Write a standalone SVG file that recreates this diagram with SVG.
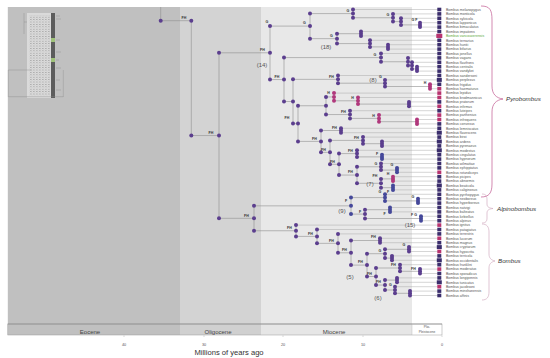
<svg xmlns="http://www.w3.org/2000/svg" width="550" height="358" viewBox="0 0 550 358">
<style>
text{font-family:"Liberation Sans",Arial,sans-serif}
.ln{fill:none;stroke:#8f8f8f;stroke-width:0.6}
.tl{fill:none;stroke:#a3a3a3;stroke-width:0.45}
.d circle{fill:#5b3e8e}
.pk circle{fill:#b0387c}
.bl circle{fill:#45489a}
.nl{font-size:3.6px;font-weight:bold;fill:#333;text-anchor:middle}
.num{font-size:6px;fill:#555;text-anchor:middle}
.sp{font-size:3.5px;fill:#555}
.tm{fill:#3a2d6c}
.tp{fill:#b8336f}
.ep{font-size:6px;fill:#444;text-anchor:middle}
.tk{font-size:3.8px;fill:#555;text-anchor:middle}
.cl{font-size:6.2px;font-style:italic;fill:#333}
.th{fill:none;stroke:#8a8a8a;stroke-width:0.4}
</style>
<defs>
<pattern id="thp" width="3" height="2.4" patternUnits="userSpaceOnUse"><rect x="0" y="0" width="1.6" height="0.7" fill="#a2a2a2"/><rect x="1.6" y="1.2" width="0.8" height="0.6" fill="#b5b5b5"/></pattern>
</defs>
<rect width="550" height="358" fill="#ffffff"/>
<g id="background">
<rect x="7.8" y="7" width="172.2" height="317" fill="#c0c0c0"/>
<rect x="180" y="7" width="81" height="317" fill="#d3d3d3"/>
<rect x="261" y="7" width="151" height="317" fill="#e8e8e8"/>
</g>
<g id="inset">
<rect x="27" y="13" width="25" height="85" fill="#dadada"/>
<rect x="29" y="15" width="21" height="81" fill="url(#thp)"/>
<rect x="51" y="13" width="4" height="85" fill="#5c5c5c"/>
<rect x="51" y="38" width="4" height="4" fill="#9fc27a"/>
<rect x="51" y="58" width="4" height="4" fill="#9fc27a"/>
<path class="th" d="M24 13V34M24 22H27M8.3 70H31.7M8.3 70V96.7M8.3 96.7H63.3M63.3 70V97M56 16H60M56 19H61M56 40H60M56 52H61M56 60H59M56 68H61M56 80H60M56 90H61"/>
</g>
<g id="connectors">
<path class="ln" d="M160.7 7V20.7H191.3M191.3 20.7V135.55H219M219 52.8V218.3M219 52.8H270M219 218.3H254
M270 26.1V79.55M270 26.1H310M270 79.55H284
M310 13.6V38.65M310 13.6H353M310 38.65H337
M353 9.5V17.75M353 17.75H393M393 13.9V21.6M393 21.6H401M401 18.3V24.9M401 24.9H420M420 22.7V27.1
M337 33.7V43.6M337 33.7H361M337 43.6H370M361 31.5V35.9M370 40.3V46.9M370 46.9H388M388 44.7V49.1
M284 57.6V101.5M284 57.6H381M284 101.5H293
M381 53.5V61.75M381 61.75H408M408 57.9V65.6M408 65.6H412M412 62.3V68.9M412 68.9H417M417 66.7V71.1
M293 79.35V123.6M293 79.35H338M293 123.6H298
M338 75.5V83.2M338 83.2H385M385 79.9V86.5M385 86.5H430M430 84.3V88.7
M298 105.75V141.4M298 105.75H326M298 141.4H321
M326 96.95V114.55M326 96.95H334M326 114.55H350
M334 93.1V100.8M334 100.8H358M358 97.5V104.1M358 104.1H409M409 101.9V106.3
M350 110.7V118.4M350 118.4H379M379 115.1V121.7M379 121.7H417M417 119.5V123.9
M321 130.5V152.35M321 130.5H341M321 152.35H330M341 128.3V132.7
M330 140.4V164.3M330 140.4H363M330 164.3H339M363 137.1V143.7M363 143.7H382M382 141.5V145.9
M339 153.6V175.05M339 153.6H357M339 175.05H357
M357 150.3V156.9M357 156.9H382M382 154.7V159.1
M357 166.8V183.3M357 166.8H381M357 183.3H381
M381 163.5V170.1M381 170.1H397M397 167.9V172.3
M381 178.9V187.7M381 178.9H393M381 187.7H393M393 176.7V181.1M393 185.5V189.9
M254 205.85V230.75M254 205.85H351M254 230.75H296
M351 197.6V214.1M351 197.6H385M351 214.1H365
M385 194.3V200.9M385 200.9H418M418 198.7V203.1
M365 209.7V218.5M365 209.7H390M365 218.5H421M390 207.5V211.9M421 216.3V220.7
M296 225.1V236.4M296 236.4H317M317 229.5V243.35M317 243.35H338M338 233.9V252.8M338 252.8H351
M351 240.5V265.1M351 240.5H380M351 265.1H367M380 238.3V242.7
M367 253.7V276.5M367 253.7H385M367 276.5H376
M385 249.3V258.1M385 249.3H409M385 258.1H392M409 247.1V251.5M392 255.9V260.3
M376 268V285.05M376 268H400M376 285.05H385
M400 264.7V271.3M400 271.3H420M420 269.1V273.5
M385 280.1V290M385 280.1H397M385 290H395M397 277.9V282.3M395 286.7V293.3M395 293.3H410M410 291.1V295.5"/>
<path class="tl" d="M353 9.5H438M393 13.9H438M401 18.3H438M420 22.7H438M420 27.1H438M361 31.5H438M361 35.9H438M370 40.3H438M388 44.7H438M388 49.1H438
M381 53.5H438M408 57.9H438M412 62.3H438M417 66.7H438M417 71.1H438M338 75.5H438M385 79.9H438M430 84.3H438M430 88.7H438
M334 93.1H438M358 97.5H438M409 101.9H438M409 106.3H438M350 110.7H438M379 115.1H438M417 119.5H438M417 123.9H438
M341 128.3H438M341 132.7H438M363 137.1H438M382 141.5H438M382 145.9H438M357 150.3H438M382 154.7H438M382 159.1H438
M381 163.5H438M397 167.9H438M397 172.3H438M393 176.7H438M393 181.1H438M393 185.5H438M393 189.9H438
M385 194.3H438M418 198.7H438M418 203.1H438M390 207.5H438M390 211.9H438M421 216.3H438M421 220.7H438
M296 225.1H438M317 229.5H438M338 233.9H438M380 238.3H438M380 242.7H438M409 247.1H438M409 251.5H438M392 255.9H438M392 260.3H438
M400 264.7H438M420 269.1H438M420 273.5H438M397 277.9H438M397 282.3H438M395 286.7H438M410 291.1H438M410 295.5H438"/>
</g>
<g id="nodes">
<g id="node-root" class="d"><circle cx="160.7" cy="20.7" r="2"/><circle cx="191.3" cy="20.7" r="2"/><text class="nl" x="184" y="18.8">FH</text></g>
<g id="node-n191" class="d"><circle cx="191.3" cy="135.55" r="2"/><circle cx="219" cy="135.55" r="2"/><text class="nl" x="211" y="133.7">FH</text></g>
<g id="node-n219" class="d"><circle cx="219" cy="52.8" r="2"/><circle cx="219" cy="218.3" r="2"/></g>
<g id="node-P" class="d"><circle cx="270" cy="26.1" r="2"/><circle cx="270" cy="52.8" r="2"/><circle cx="270" cy="79.55" r="2"/><text class="nl" x="262.5" y="51">FH</text><text class="nl" x="267" y="23.2">G</text><text class="num" x="262" y="66.5">(14)</text></g>
<g id="node-A" class="d"><circle cx="310" cy="13.6" r="2"/><circle cx="310" cy="26.1" r="2"/><circle cx="310" cy="38.65" r="2"/><text class="nl" x="304.5" y="24.3">G</text></g>
<g id="node-A1" class="d"><circle cx="353" cy="9.5" r="2"/><circle cx="353" cy="13.6" r="2"/><circle cx="353" cy="17.75" r="2"/><text class="nl" x="348" y="11.8">G</text></g>
<g id="node-A1b" class="d"><circle cx="393" cy="13.9" r="2"/><circle cx="393" cy="17.75" r="2"/><circle cx="393" cy="21.6" r="2"/><text class="nl" x="388" y="16">G</text></g>
<g id="node-A1c" class="d"><circle cx="401" cy="18.3" r="2"/><circle cx="401" cy="21.6" r="2"/><circle cx="401" cy="24.9" r="2"/></g>
<g id="node-A1d" class="d"><circle cx="420" cy="22.7" r="2"/><circle cx="420" cy="24.9" r="2"/><circle cx="420" cy="27.1" r="2"/><text class="nl" x="414.5" y="21">G F</text></g>
<g id="node-A2" class="d"><circle cx="337" cy="33.7" r="2"/><circle cx="337" cy="38.65" r="2"/><circle cx="337" cy="43.6" r="2"/><text class="nl" x="331.5" y="36.9">G</text><text class="num" x="326" y="48.5">(18)</text></g>
<g id="node-A2a" class="d"><circle cx="361" cy="31.5" r="2"/><circle cx="361" cy="33.7" r="2"/><circle cx="361" cy="35.9" r="2"/></g>
<g id="node-A2b" class="d"><circle cx="370" cy="40.3" r="2"/><circle cx="370" cy="43.6" r="2"/><circle cx="370" cy="46.9" r="2"/></g>
<g id="node-A2c" class="d"><circle cx="388" cy="44.7" r="2"/><circle cx="388" cy="46.9" r="2"/><circle cx="388" cy="49.1" r="2"/></g>
<g id="node-B" class="d"><circle cx="284" cy="57.6" r="2"/><circle cx="284" cy="79.55" r="2"/><circle cx="284" cy="101.5" r="2"/><text class="nl" x="277" y="77.8">FH</text></g>
<g id="node-C" class="d"><circle cx="381" cy="53.5" r="2"/><circle cx="381" cy="57.6" r="2"/><circle cx="381" cy="61.75" r="2"/><text class="nl" x="375" y="55.8">G</text></g>
<g id="node-C2" class="d"><circle cx="408" cy="57.9" r="2"/><circle cx="408" cy="61.75" r="2"/><circle cx="408" cy="65.6" r="2"/></g>
<g id="node-C3" class="d"><circle cx="412" cy="62.3" r="2"/><circle cx="412" cy="65.6" r="2"/><circle cx="412" cy="68.9" r="2"/></g>
<g id="node-C4" class="d"><circle cx="417" cy="66.7" r="2"/><circle cx="417" cy="68.9" r="2"/><circle cx="417" cy="71.1" r="2"/></g>
<g id="node-D" class="d"><circle cx="293" cy="79.35" r="2"/><circle cx="293" cy="101.5" r="2"/><circle cx="293" cy="123.6" r="2"/><text class="nl" x="287" y="118.5">FH</text></g>
<g id="node-D1" class="d"><circle cx="338" cy="75.5" r="2"/><circle cx="338" cy="79.35" r="2"/><circle cx="338" cy="83.2" r="2"/><text class="nl" x="331.5" y="77.6">FH</text></g>
<g id="node-D1a" class="d"><circle cx="385" cy="79.9" r="2"/><circle cx="385" cy="83.2" r="2"/><circle cx="385" cy="86.5" r="2"/><text class="nl" x="380.5" y="77.5">G</text><text class="num" x="373" y="82">(8)</text></g>
<g id="node-D1b" class="pk"><circle cx="430" cy="84.3" r="2"/><circle cx="430" cy="86.5" r="2"/><circle cx="430" cy="88.7" r="2"/><text class="nl" x="425" y="83.6">H</text></g>
<g id="node-E" class="d"><circle cx="298" cy="105.75" r="2"/><circle cx="298" cy="123.6" r="2"/><circle cx="298" cy="141.4" r="2"/></g>
<g id="node-E1" class="d"><circle cx="326" cy="96.95" r="2"/><circle cx="326" cy="105.75" r="2"/><circle cx="326" cy="114.55" r="2"/></g>
<g id="node-E1a" class="pk"><circle cx="334" cy="93.1" r="2"/><circle cx="334" cy="96.95" r="2"/><circle cx="334" cy="100.8" r="2"/><text class="nl" x="328.5" y="94.2">H</text></g>
<g id="node-E1a2" class="pk"><circle cx="358" cy="97.5" r="2"/><circle cx="358" cy="100.8" r="2"/><circle cx="358" cy="104.1" r="2"/><text class="nl" x="352.5" y="99">H</text></g>
<g id="node-E1a3" class="d"><circle cx="409" cy="101.9" r="2"/><circle cx="409" cy="104.1" r="2"/><circle cx="409" cy="106.3" r="2"/></g>
<g id="node-E1b" class="d"><circle cx="350" cy="110.7" r="2"/><circle cx="350" cy="114.55" r="2"/><circle cx="350" cy="118.4" r="2"/><text class="nl" x="343.5" y="112.8">FH</text></g>
<g id="node-E1b2" class="pk"><circle cx="379" cy="115.1" r="2"/><circle cx="379" cy="118.4" r="2"/><circle cx="379" cy="121.7" r="2"/><text class="nl" x="373.5" y="116.6">H</text></g>
<g id="node-E1b3" class="pk"><circle cx="417" cy="119.5" r="2"/><circle cx="417" cy="121.7" r="2"/><circle cx="417" cy="123.9" r="2"/></g>
<g id="node-F" class="d"><circle cx="321" cy="130.5" r="2"/><circle cx="321" cy="141.4" r="2"/><circle cx="321" cy="152.35" r="2"/><text class="nl" x="314.5" y="139.6">FH</text></g>
<g id="node-F1" class="d"><circle cx="341" cy="128.3" r="2"/><circle cx="341" cy="130.5" r="2"/><circle cx="341" cy="132.7" r="2"/><text class="nl" x="334.5" y="128.7">FH</text></g>
<g id="node-G" class="d"><circle cx="330" cy="140.4" r="2"/><circle cx="330" cy="152.35" r="2"/><circle cx="330" cy="164.3" r="2"/><text class="nl" x="323.5" y="150.6">FH</text></g>
<g id="node-G1" class="d"><circle cx="363" cy="137.1" r="2"/><circle cx="363" cy="140.4" r="2"/><circle cx="363" cy="143.7" r="2"/><text class="nl" x="356.5" y="138.6">FH</text></g>
<g id="node-G1b" class="d"><circle cx="382" cy="141.5" r="2"/><circle cx="382" cy="143.7" r="2"/><circle cx="382" cy="145.9" r="2"/></g>
<g id="node-H" class="d"><circle cx="339" cy="153.6" r="2"/><circle cx="339" cy="164.3" r="2"/><circle cx="339" cy="175.05" r="2"/><text class="nl" x="332.5" y="162.5">FH</text></g>
<g id="node-H1" class="d"><circle cx="357" cy="150.3" r="2"/><circle cx="357" cy="153.6" r="2"/><circle cx="357" cy="156.9" r="2"/><text class="nl" x="350.5" y="151.8">FH</text></g>
<g id="node-H1b" class="bl"><circle cx="382" cy="154.7" r="2"/><circle cx="382" cy="156.9" r="2"/><circle cx="382" cy="159.1" r="2"/><text class="nl" x="377" y="155.1">F</text></g>
<g id="node-H2" class="d"><circle cx="357" cy="166.8" r="2"/><circle cx="357" cy="175.05" r="2"/><circle cx="357" cy="183.3" r="2"/><text class="nl" x="350.5" y="173.3">FH</text></g>
<g id="node-H2a" class="d"><circle cx="381" cy="163.5" r="2"/><circle cx="381" cy="166.8" r="2"/><circle cx="381" cy="170.1" r="2"/><text class="nl" x="376" y="165">G</text></g>
<g id="node-H2a2" class="bl"><circle cx="397" cy="167.9" r="2"/><circle cx="397" cy="170.1" r="2"/><circle cx="397" cy="172.3" r="2"/><text class="nl" x="392" y="166.3">G</text></g>
<g id="node-H2b" class="d"><circle cx="381" cy="178.9" r="2"/><circle cx="381" cy="183.3" r="2"/><circle cx="381" cy="187.7" r="2"/><text class="nl" x="375" y="177.4">FH</text><text class="num" x="370" y="185.5">(7)</text></g>
<g id="node-H2b1" class="pk"><circle cx="393" cy="176.7" r="2"/><circle cx="393" cy="178.9" r="2"/><circle cx="393" cy="181.1" r="2"/><text class="nl" x="388" y="175.2">H</text></g>
<g id="node-H2b2" class="bl"><circle cx="393" cy="185.5" r="2"/><circle cx="393" cy="187.7" r="2"/><circle cx="393" cy="189.9" r="2"/><text class="nl" x="388" y="192.5">F</text></g>
<g id="node-AlBo" class="d"><circle cx="254" cy="205.85" r="2"/><circle cx="254" cy="218.3" r="2"/><circle cx="254" cy="230.75" r="2"/><text class="nl" x="246.5" y="216.5">FH</text></g>
<g id="node-Al" class="bl"><circle cx="351" cy="197.6" r="2"/><circle cx="351" cy="205.85" r="2"/><circle cx="351" cy="214.1" r="2"/><text class="nl" x="346" y="201.5">F</text><text class="num" x="342" y="213">(9)</text></g>
<g id="node-Al1" class="bl"><circle cx="385" cy="194.3" r="2"/><circle cx="385" cy="197.6" r="2"/><circle cx="385" cy="200.9" r="2"/><text class="nl" x="380" y="193">G</text></g>
<g id="node-Al1b" class="bl"><circle cx="418" cy="198.7" r="2"/><circle cx="418" cy="200.9" r="2"/><circle cx="418" cy="203.1" r="2"/><text class="nl" x="413" y="197.5">G</text></g>
<g id="node-Al2" class="d"><circle cx="365" cy="209.7" r="2"/><circle cx="365" cy="214.1" r="2"/><circle cx="365" cy="218.5" r="2"/><text class="nl" x="360" y="212.5">F</text></g>
<g id="node-Al2a" class="bl"><circle cx="390" cy="207.5" r="2"/><circle cx="390" cy="209.7" r="2"/><circle cx="390" cy="211.9" r="2"/><text class="nl" x="384.5" y="215.3">F</text></g>
<g id="node-Al2b" class="bl"><circle cx="421" cy="216.3" r="2"/><circle cx="421" cy="218.5" r="2"/><circle cx="421" cy="220.7" r="2"/><text class="nl" x="414" y="215.6">F G</text><text class="num" x="410" y="226.5">(15)</text></g>
<g id="node-Bo" class="d"><circle cx="296" cy="225.1" r="2"/><circle cx="296" cy="230.75" r="2"/><circle cx="296" cy="236.4" r="2"/><text class="nl" x="289.5" y="229">FH</text></g>
<g id="node-Bo2" class="d"><circle cx="317" cy="229.5" r="2"/><circle cx="317" cy="236.4" r="2"/><circle cx="317" cy="243.35" r="2"/><text class="nl" x="310.5" y="234.6">FH</text></g>
<g id="node-Bo3" class="d"><circle cx="338" cy="233.9" r="2"/><circle cx="338" cy="243.35" r="2"/><circle cx="338" cy="252.8" r="2"/><text class="nl" x="331.5" y="241.6">FH</text></g>
<g id="node-Bo4" class="d"><circle cx="351" cy="240.5" r="2"/><circle cx="351" cy="252.8" r="2"/><circle cx="351" cy="265.1" r="2"/><text class="nl" x="344.5" y="251">FH</text></g>
<g id="node-Bo4a" class="d"><circle cx="380" cy="238.3" r="2"/><circle cx="380" cy="240.5" r="2"/><circle cx="380" cy="242.7" r="2"/><text class="nl" x="373.5" y="237.5">FH</text></g>
<g id="node-Bo5" class="d"><circle cx="367" cy="253.7" r="2"/><circle cx="367" cy="265.1" r="2"/><circle cx="367" cy="276.5" r="2"/><text class="nl" x="360.5" y="263.3">FH</text></g>
<g id="node-Bo5a" class="d"><circle cx="385" cy="249.3" r="2"/><circle cx="385" cy="253.7" r="2"/><circle cx="385" cy="258.1" r="2"/><text class="nl" x="380" y="251.6">G</text></g>
<g id="node-Bo5a1" class="d"><circle cx="409" cy="247.1" r="2"/><circle cx="409" cy="249.3" r="2"/><circle cx="409" cy="251.5" r="2"/><text class="nl" x="404" y="246">G</text></g>
<g id="node-Bo5a2" class="d"><circle cx="392" cy="255.9" r="2"/><circle cx="392" cy="258.1" r="2"/><circle cx="392" cy="260.3" r="2"/></g>
<g id="node-Bo6" class="d"><circle cx="376" cy="268" r="2"/><circle cx="376" cy="276.5" r="2"/><circle cx="376" cy="285.05" r="2"/><text class="nl" x="369.5" y="274.8">FH</text><text class="num" x="350" y="279">(5)</text></g>
<g id="node-Bo6a" class="d"><circle cx="400" cy="264.7" r="2"/><circle cx="400" cy="268" r="2"/><circle cx="400" cy="271.3" r="2"/><text class="nl" x="393.5" y="266.3">FH</text></g>
<g id="node-Bo6a2" class="d"><circle cx="420" cy="269.1" r="2"/><circle cx="420" cy="271.3" r="2"/><circle cx="420" cy="273.5" r="2"/><text class="nl" x="413.5" y="269.6">FH</text></g>
<g id="node-Bo6b" class="d"><circle cx="385" cy="280.1" r="2"/><circle cx="385" cy="285.05" r="2"/><circle cx="385" cy="290" r="2"/><text class="nl" x="378.5" y="283.3">FH</text></g>
<g id="node-Bo6b1" class="d"><circle cx="397" cy="277.9" r="2"/><circle cx="397" cy="280.1" r="2"/><circle cx="397" cy="282.3" r="2"/></g>
<g id="node-Bo6b2" class="d"><circle cx="395" cy="286.7" r="2"/><circle cx="395" cy="290" r="2"/><circle cx="395" cy="293.3" r="2"/><text class="nl" x="390.5" y="285.5">G</text></g>
<g id="node-Bo6b3" class="d"><circle cx="410" cy="291.1" r="2"/><circle cx="410" cy="293.3" r="2"/><circle cx="410" cy="295.5" r="2"/><text class="num" x="378" y="299.5">(6)</text></g>
</g>
<g id="tips">
<g id="tip-00"><rect class="tm" x="437.3" y="7.7" width="4" height="3.6"/><text class="sp" x="446" y="10.8">Bombus melanopygus</text></g>
<g id="tip-01"><rect class="tm" x="437.3" y="12.1" width="4" height="3.6"/><text class="sp" x="446" y="15.2">Bombus monticola</text></g>
<g id="tip-02"><rect class="tm" x="437.3" y="16.5" width="4" height="3.6"/><text class="sp" x="446" y="19.6">Bombus sylvicola</text></g>
<g id="tip-03"><rect class="tm" x="437.3" y="20.9" width="4" height="3.6"/><text class="sp" x="446" y="24">Bombus lapponicus</text></g>
<g id="tip-04"><rect class="tm" x="437.3" y="25.3" width="4" height="3.6"/><text class="sp" x="446" y="28.4">Bombus bimaculatus</text></g>
<g id="tip-05"><rect class="tm" x="437.3" y="29.7" width="4" height="3.6"/><text class="sp" x="446" y="32.8">Bombus impatiens</text></g>
<g id="tip-06"><rect class="tp" x="436.3" y="33.8" width="6" height="4.2"/><text class="sp" x="446" y="37.2" style="fill:#5aa83a">Bombus vancouverensis</text></g>
<g id="tip-07"><rect class="tm" x="437.3" y="38.5" width="4" height="3.6"/><text class="sp" x="446" y="41.6">Bombus ternarius</text></g>
<g id="tip-08"><rect class="tm" x="437.3" y="42.9" width="4" height="3.6"/><text class="sp" x="446" y="46">Bombus huntii</text></g>
<g id="tip-09"><rect class="tm" x="437.3" y="47.3" width="4" height="3.6"/><text class="sp" x="446" y="50.4">Bombus bifarius</text></g>
<g id="tip-10"><rect class="tm" x="437.3" y="51.7" width="4" height="3.6"/><text class="sp" x="446" y="54.8">Bombus jonellus</text></g>
<g id="tip-11"><rect class="tm" x="437.3" y="56.1" width="4" height="3.6"/><text class="sp" x="446" y="59.2">Bombus vagans</text></g>
<g id="tip-12"><rect class="tm" x="437.3" y="60.5" width="4" height="3.6"/><text class="sp" x="446" y="63.6">Bombus flavifrons</text></g>
<g id="tip-13"><rect class="tm" x="437.3" y="64.9" width="4" height="3.6"/><text class="sp" x="446" y="68">Bombus centralis</text></g>
<g id="tip-14"><rect class="tm" x="437.3" y="69.3" width="4" height="3.6"/><text class="sp" x="446" y="72.4">Bombus vandykei</text></g>
<g id="tip-15"><rect class="tm" x="437.3" y="73.7" width="4" height="3.6"/><text class="sp" x="446" y="76.8">Bombus sandersoni</text></g>
<g id="tip-16"><rect class="tm" x="436.8" y="77.9" width="5" height="4"/><text class="sp" x="446" y="81.2">Bombus perplexus</text></g>
<g id="tip-17"><rect class="tm" x="437.3" y="82.5" width="4" height="3.6"/><text class="sp" x="446" y="85.6">Bombus frigidus</text></g>
<g id="tip-18"><rect class="tp" x="437.3" y="86.9" width="4" height="3.6"/><text class="sp" x="446" y="90">Bombus haematurus</text></g>
<g id="tip-19"><rect class="tp" x="437.3" y="91.3" width="4" height="3.6"/><text class="sp" x="446" y="94.4">Bombus lepidus</text></g>
<g id="tip-20"><rect class="tp" x="437.3" y="95.7" width="4" height="3.6"/><text class="sp" x="446" y="98.8">Bombus brodmannicus</text></g>
<g id="tip-21"><rect class="tm" x="437.3" y="100.1" width="4" height="3.6"/><text class="sp" x="446" y="103.2">Bombus pratorum</text></g>
<g id="tip-22"><rect class="tp" x="437.3" y="104.5" width="4" height="3.6"/><text class="sp" x="446" y="107.6">Bombus infirmus</text></g>
<g id="tip-23"><rect class="tm" x="437.3" y="108.9" width="4" height="3.6"/><text class="sp" x="446" y="112">Bombus luteipes</text></g>
<g id="tip-24"><rect class="tp" x="437.3" y="113.3" width="4" height="3.6"/><text class="sp" x="446" y="116.4">Bombus parthenius</text></g>
<g id="tip-25"><rect class="tp" x="437.3" y="117.7" width="4" height="3.6"/><text class="sp" x="446" y="120.8">Bombus infrequens</text></g>
<g id="tip-26"><rect class="tm" x="437.3" y="122.1" width="4" height="3.6"/><text class="sp" x="446" y="125.2">Bombus convexus</text></g>
<g id="tip-27"><rect class="tm" x="437.3" y="126.5" width="4" height="3.6"/><text class="sp" x="446" y="129.6">Bombus lemniscatus</text></g>
<g id="tip-28"><rect class="tm" x="436.8" y="130.7" width="5" height="4"/><text class="sp" x="446" y="134">Bombus flavescens</text></g>
<g id="tip-29"><rect class="tm" x="437.3" y="135.3" width="4" height="3.6"/><text class="sp" x="446" y="138.4">Bombus biroi</text></g>
<g id="tip-30"><rect class="tm" x="436.8" y="139.5" width="5" height="4"/><text class="sp" x="446" y="142.8">Bombus ardens</text></g>
<g id="tip-31"><rect class="tm" x="437.3" y="144.1" width="4" height="3.6"/><text class="sp" x="446" y="147.2">Bombus pyrenaeus</text></g>
<g id="tip-32"><rect class="tm" x="436.8" y="148.3" width="5" height="4"/><text class="sp" x="446" y="151.6">Bombus modestus</text></g>
<g id="tip-33"><rect class="tm" x="437.3" y="152.9" width="4" height="3.6"/><text class="sp" x="446" y="156">Bombus cingulatus</text></g>
<g id="tip-34"><rect class="tm" x="437.3" y="157.3" width="4" height="3.6"/><text class="sp" x="446" y="160.4">Bombus hypnorum</text></g>
<g id="tip-35"><rect class="tm" x="437.3" y="161.7" width="4" height="3.6"/><text class="sp" x="446" y="164.8">Bombus wilmattae</text></g>
<g id="tip-36"><rect class="tm" x="437.3" y="166.1" width="4" height="3.6"/><text class="sp" x="446" y="169.2">Bombus ephippiatus</text></g>
<g id="tip-37"><rect class="tp" x="437.3" y="170.5" width="4" height="3.6"/><text class="sp" x="446" y="173.6">Bombus rotundiceps</text></g>
<g id="tip-38"><rect class="tm" x="437.3" y="174.9" width="4" height="3.6"/><text class="sp" x="446" y="178">Bombus picipes</text></g>
<g id="tip-39"><rect class="tm" x="437.3" y="179.3" width="4" height="3.6"/><text class="sp" x="446" y="182.4">Bombus abnormis</text></g>
<g id="tip-40"><rect class="tm" x="436.8" y="183.5" width="5" height="4"/><text class="sp" x="446" y="186.8">Bombus beaticola</text></g>
<g id="tip-41"><rect class="tm" x="437.3" y="188.1" width="4" height="3.6"/><text class="sp" x="446" y="191.2">Bombus caliginosus</text></g>
<g id="tip-42"><rect class="tm" x="437.3" y="192.5" width="4" height="3.6"/><text class="sp" x="446" y="195.6">Bombus pyrrhopygus</text></g>
<g id="tip-43"><rect class="tm" x="437.3" y="196.9" width="4" height="3.6"/><text class="sp" x="446" y="200">Bombus neoboreus</text></g>
<g id="tip-44"><rect class="tm" x="437.3" y="201.3" width="4" height="3.6"/><text class="sp" x="446" y="204.4">Bombus hyperboreus</text></g>
<g id="tip-45"><rect class="tm" x="437.3" y="205.7" width="4" height="3.6"/><text class="sp" x="446" y="208.8">Bombus natvigi</text></g>
<g id="tip-46"><rect class="tm" x="437.3" y="210.1" width="4" height="3.6"/><text class="sp" x="446" y="213.2">Bombus balteatus</text></g>
<g id="tip-47"><rect class="tm" x="437.3" y="214.5" width="4" height="3.6"/><text class="sp" x="446" y="217.6">Bombus kirbiellus</text></g>
<g id="tip-48"><rect class="tm" x="437.3" y="218.9" width="4" height="3.6"/><text class="sp" x="446" y="222">Bombus alpinus</text></g>
<g id="tip-49"><rect class="tp" x="437.3" y="223.3" width="4" height="3.6"/><text class="sp" x="446" y="226.4">Bombus ignitus</text></g>
<g id="tip-50"><rect class="tm" x="437.3" y="227.7" width="4" height="3.6"/><text class="sp" x="446" y="230.8">Bombus patagiatus</text></g>
<g id="tip-51"><rect class="tm" x="437.3" y="232.1" width="4" height="3.6"/><text class="sp" x="446" y="235.2">Bombus terrestris</text></g>
<g id="tip-52"><rect class="tp" x="437.3" y="236.5" width="4" height="3.6"/><text class="sp" x="446" y="239.6">Bombus lucorum</text></g>
<g id="tip-53"><rect class="tm" x="437.3" y="240.9" width="4" height="3.6"/><text class="sp" x="446" y="244">Bombus magnus</text></g>
<g id="tip-54"><rect class="tm" x="436.8" y="245.1" width="5" height="4"/><text class="sp" x="446" y="248.4">Bombus cryptarum</text></g>
<g id="tip-55"><rect class="tp" x="437.3" y="249.7" width="4" height="3.6"/><text class="sp" x="446" y="252.8">Bombus hypocrita</text></g>
<g id="tip-56"><rect class="tm" x="437.3" y="254.1" width="4" height="3.6"/><text class="sp" x="446" y="257.2">Bombus terricola</text></g>
<g id="tip-57"><rect class="tm" x="436.8" y="258.3" width="5" height="4"/><text class="sp" x="446" y="261.6">Bombus occidentalis</text></g>
<g id="tip-58"><rect class="tm" x="437.3" y="262.9" width="4" height="3.6"/><text class="sp" x="446" y="266">Bombus franklini</text></g>
<g id="tip-59"><rect class="tp" x="437.3" y="267.3" width="4" height="3.6"/><text class="sp" x="446" y="270.4">Bombus moderatus</text></g>
<g id="tip-60"><rect class="tm" x="437.3" y="271.7" width="4" height="3.6"/><text class="sp" x="446" y="274.8">Bombus sporadicus</text></g>
<g id="tip-61"><rect class="tm" x="437.3" y="276.1" width="4" height="3.6"/><text class="sp" x="446" y="279.2">Bombus longipennis</text></g>
<g id="tip-62"><rect class="tm" x="436.8" y="280.3" width="5" height="4"/><text class="sp" x="446" y="283.6">Bombus tunicatus</text></g>
<g id="tip-63"><rect class="tp" x="437.3" y="284.9" width="4" height="3.6"/><text class="sp" x="446" y="288">Bombus jacobsoni</text></g>
<g id="tip-64"><rect class="tm" x="437.3" y="289.3" width="4" height="3.6"/><text class="sp" x="446" y="292.4">Bombus minshanensis</text></g>
<g id="tip-65"><rect class="tm" x="437.3" y="293.7" width="4" height="3.6"/><text class="sp" x="446" y="296.8">Bombus affinis</text></g>
</g>
<g id="clades">
<path d="M481 6C490 6 492 10 492 20L492 86C492 94 496 98 503 99C496 100 492 104 492 112L492 184C492 193 489 197 481 197" fill="none" stroke="#c0578f" stroke-width="0.7"/>
<path d="M482 194C486 194 487 196 487 200L487 204C487 207 489 208 493 208.5C489 209 487 210 487 213L487 218C487 221 486 223 482 223" fill="none" stroke="#d2adc1" stroke-width="0.7"/>
<path d="M482 224C487 224 489 227 489 232L489 254C489 258 491 260 495 261C491 262 489 264 489 268L489 292C489 297 487 300 482 300" fill="none" stroke="#d2adc1" stroke-width="0.7"/>
<text class="cl" x="506" y="101">Pyrobombus</text>
<text class="cl" x="497" y="210.5">Alpinobombus</text>
<text class="cl" x="498" y="263">Bombus</text>
</g>
<g id="timescale">
<rect x="7.8" y="324" width="172.2" height="11" fill="#c0c0c0"/>
<rect x="180" y="324" width="81" height="11" fill="#d0d0d0"/>
<rect x="261" y="324" width="151" height="11" fill="#e6e6e6"/>
<rect x="412" y="324" width="30" height="11" fill="#ffffff"/>
<rect x="7.8" y="324" width="434.2" height="11" fill="none" stroke="#9a9a9a" stroke-width="0.5"/>
<path d="M7.8 324H442" stroke="#8a8a8a" stroke-width="0.7"/>
<path d="M412 324V335" stroke="#b0b0b0" stroke-width="0.4"/>
<text class="ep" x="90" y="333.8">Eocene</text>
<text class="ep" x="218" y="333.8">Oligocene</text>
<text class="ep" x="334" y="333.8">Miocene</text>
<text class="tk" x="427" y="328" style="font-size:3.2px">Plio-</text>
<text class="tk" x="427" y="333" style="font-size:3.2px">Pleistocene</text>
<path d="M124 335.5V337M204 335.5V337M283 335.5V337M363 335.5V337M442 335.5V337" stroke="#999" stroke-width="0.4"/>
<text class="tk" x="124" y="345.5">40</text>
<text class="tk" x="204" y="345.5">30</text>
<text class="tk" x="283" y="345.5">20</text>
<text class="tk" x="363" y="345.5">10</text>
<text class="tk" x="442" y="345.5">0</text>
<text x="229" y="354.5" style="font-size:7.6px;fill:#333;text-anchor:middle">Millions of years ago</text>
</g>
</svg>
